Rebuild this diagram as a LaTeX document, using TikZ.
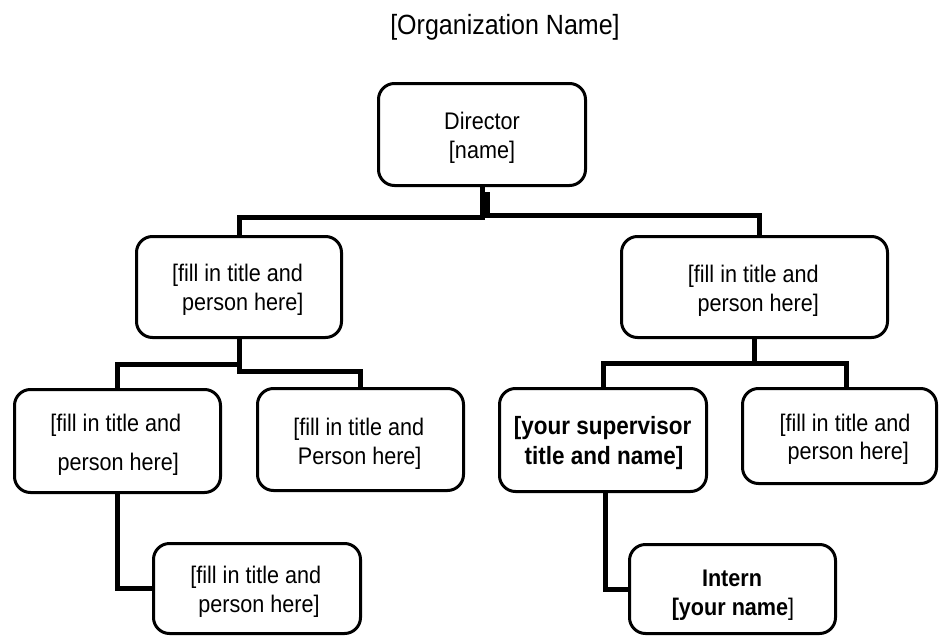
\documentclass[tikz,border=0pt]{standalone}
\usepackage{fontspec}
\setmainfont{Liberation Sans}[FakeStretch=0.9]
\begin{document}
\begin{tikzpicture}[x=1pt,y=-1pt,
  box/.style={draw=black, line width=3pt, rounded corners=16pt, inner sep=0pt, fill=white},
  conn/.style={draw=black, line width=5pt},
  lbl/.style={inner sep=0pt, anchor=base, font=\fontsize{24}{28}\selectfont},
  blbl/.style={lbl, font=\fontsize{24}{28}\selectfont\bfseries},
  ttl/.style={lbl, font=\fontsize{27.8}{32}\selectfont},
]
\useasboundingbox (0,0) rectangle (940,637);

% boxes
\node[box, minimum width=207pt, minimum height=102pt] (dir) at (482,134.5) {};
\node[box, minimum width=205pt, minimum height=101pt] (lm) at (239,287) {};
\node[box, minimum width=266pt, minimum height=101pt] (rm) at (754.5,287) {};
\node[box, minimum width=206pt, minimum height=103pt] (ll) at (117.5,441) {};
\node[box, minimum width=206pt, minimum height=102pt] (lr) at (360.5,439.5) {};
\node[box, minimum width=207pt, minimum height=103pt] (sup) at (603,440) {};
\node[box, minimum width=194pt, minimum height=95pt] (rr) at (839.5,436) {};
\node[box, minimum width=207pt, minimum height=90pt] (bl) at (257,588.5) {};
\node[box, minimum width=206pt, minimum height=89pt] (intern) at (732.5,589) {};

% bus lines
\coordinate (busA) at (0,217.5);
\coordinate (busB) at (0,215);
\coordinate (busC) at (0,364);
\coordinate (busD) at (0,371);
\coordinate (busE) at (0,363);
\coordinate (dirR) at ([xshift=5pt,yshift=-5pt]dir.south);
\coordinate (rmIn) at ([xshift=5pt]rm.north);
\coordinate (rrIn) at ([xshift=7pt]rr.north);
\coordinate (supOut) at ([xshift=2pt]sup.south);

% connectors
\draw[conn] (dir.south) -- (dir.south |- busA) -| (lm.north);
\draw[conn] (dirR) -- (dirR |- busB) -| (rmIn);
\draw[conn] (lm.south) -- (lm.south |- busC) -| (ll.north);
\draw[conn] (lm.south) -- (lm.south |- busD) -| (lr.north);
\draw[conn] (rm.south) -- (rm.south |- busE) -| (sup.north);
\draw[conn] (rm.south) -- (rm.south |- busE) -| (rrIn);
\draw[conn] (ll.south) |- (bl.west);
\draw[conn] (supOut) |- (intern.west);

% texts
\node[ttl] (title) at (505,34.3) {[Organization Name]};
\node[lbl] (dirA) at (482,129.3) {Director};
\node[lbl] (dirB) at (482,158.3) {[name]};
\node[lbl] (lmA) at (237.5,281.7) {[fill in title and};
\node[lbl] (lmB) at (242.8,310) {person here]};
\node[lbl] (rmA) at (753.3,282.3) {[fill in title and};
\node[lbl] (rmB) at (758.3,311.7) {person here]};
\node[lbl] (llA) at (115.8,431) {[fill in title and};
\node[lbl] (llB) at (118.3,470) {person here]};
\node[lbl] (lrA) at (358.7,435) {[fill in title and};
\node[lbl] (lrB) at (359.7,464) {Person here]};
\node[lbl] (blA) at (255.8,583.3) {[fill in title and};
\node[lbl] (blB) at (259,612.7) {person here]};
\node[blbl, font=\fontsize{25}{29}\selectfont\bfseries] (supA) at (602.7,434) {[your supervisor};
\node[blbl, font=\fontsize{25}{29}\selectfont\bfseries] (supB) at (604,464) {title and name]};
\node[lbl] (rrA) at (845,431) {[fill in title and};
\node[lbl] (rrB) at (848.3,459.3) {person here]};
\node[blbl] (inA) at (732,586) {Intern};
\node[lbl] (inB) at (733,615) {\textbf{[your name}]};
\end{tikzpicture}
\end{document}
